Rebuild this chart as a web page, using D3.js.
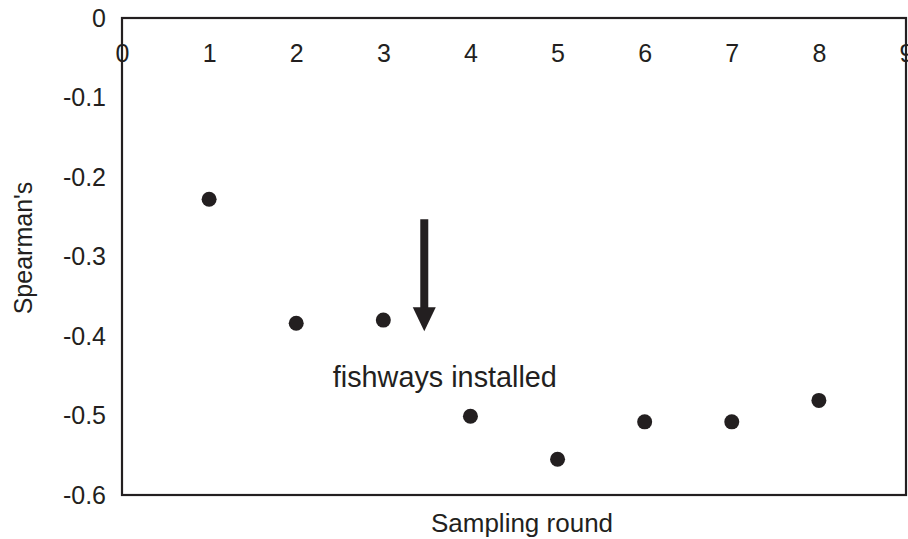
<!DOCTYPE html>
<html>
<head>
<meta charset="utf-8">
<script src="https://d3js.org/d3.v7.min.js"></script>
<style>
  body { margin: 0; background: #fff; }
  text { font-family: "Liberation Sans", Arial, sans-serif; fill: #231f20; }
</style>
</head>
<body>
<div id="chart"></div>
<script>
// sampling rounds and Spearman's values
var rounds = [1, 2, 3, 4, 5, 6, 7, 8];
var spearman = [-0.228, -0.384, -0.380, -0.501, -0.555, -0.508, -0.508, -0.481];

var xTicks = [0, 1, 2, 3, 4, 5, 6, 7, 8, 9];
var yTicks = [0, -0.1, -0.2, -0.3, -0.4, -0.5, -0.6];
var yTickLabels = ["0", "-0.1", "-0.2", "-0.3", "-0.4", "-0.5", "-0.6"];

// annotation: arrow between rounds 3 and 4
var arrowX = 3.47, arrowFrom = -0.253, arrowTo = -0.394;
var noteText = "fishways installed", noteX = 2.42, noteY = -0.464;

var W = 908, H = 539;
var margin = {top: 18, right: 2, bottom: 44, left: 122};
var width = W - margin.left - margin.right,
    height = H - margin.top - margin.bottom;

var svg = d3.select("#chart").append("svg")
    .attr("width", W)
    .attr("height", H);
var g = svg.append("g")
    .attr("transform", "translate(" + margin.left + "," + margin.top + ")");

var x = d3.scaleLinear().domain([0, 9]).range([0, width]);
var y = d3.scaleLinear().domain([-0.6, 0]).range([height, 0]);

// x axis sits on y = 0, labels underneath (the 9 runs off the edge, as in the original)
var xAxis = g.append("g")
    .attr("transform", "translate(0," + y(0) + ")")
    .call(d3.axisBottom(x).tickValues(xTicks).tickSize(0).tickPadding(26).tickFormat(d3.format("d")));
xAxis.select(".domain").remove();
xAxis.selectAll("text").style("font-size", "25px").style("font-family", null);

var yAxis = g.append("g")
    .call(d3.axisLeft(y).tickValues(yTicks).tickSize(0).tickPadding(16)
      .tickFormat(function(d, i) { return yTickLabels[i]; }));
yAxis.select(".domain").remove();
yAxis.selectAll("text").style("font-size", "25px").style("font-family", null);

// frame
g.append("rect")
    .attr("x", x(0)).attr("y", y(0))
    .attr("width", x(9) - x(0)).attr("height", y(-0.6) - y(0))
    .attr("fill", "none").attr("stroke", "#231f20").attr("stroke-width", 2.2);

// dots
g.selectAll("circle.pt")
  .data(rounds)
  .enter().append("circle")
    .attr("class", "pt")
    .attr("cx", function(d) { return x(d); })
    .attr("cy", function(d, i) { return y(spearman[i]); })
    .attr("r", 7.5)
    .attr("fill", "#231f20");

// arrow
var ax = x(arrowX), headH = 24, headW = 23;
g.append("line")
    .attr("x1", ax).attr("x2", ax)
    .attr("y1", y(arrowFrom)).attr("y2", y(arrowTo) - headH + 1)
    .attr("stroke", "#231f20").attr("stroke-width", 8);
g.append("path")
    .attr("d", "M" + (ax - headW / 2) + "," + (y(arrowTo) - headH) +
               "L" + (ax + headW / 2) + "," + (y(arrowTo) - headH) +
               "L" + ax + "," + y(arrowTo) + "Z")
    .attr("fill", "#231f20");

g.append("text")
    .attr("x", x(noteX)).attr("y", y(noteY))
    .style("font-size", "28.8px")
    .text(noteText);

// axis titles
svg.append("text")
    .attr("transform", "translate(32,248) rotate(-90)")
    .attr("text-anchor", "middle")
    .style("font-size", "25px")
    .text("Spearman's");

svg.append("text")
    .attr("x", 522).attr("y", 532)
    .attr("text-anchor", "middle")
    .style("font-size", "26px")
    .text("Sampling round");
</script>
</body>
</html>
